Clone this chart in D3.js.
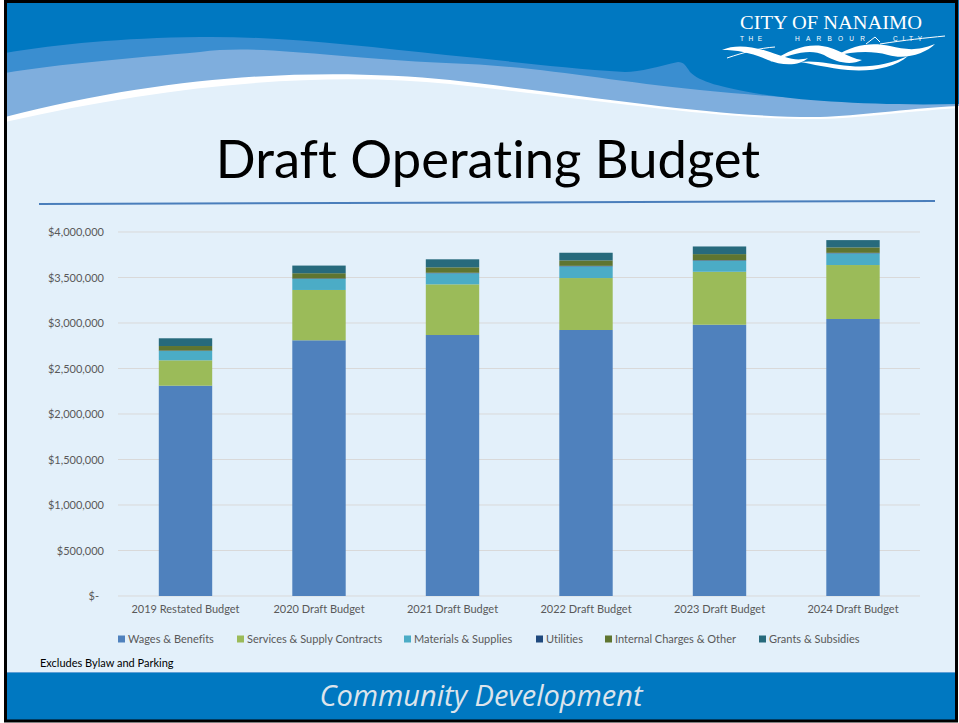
<!DOCTYPE html>
<html><head><meta charset="utf-8">
<script src="https://cdn.jsdelivr.net/npm/d3@7/dist/d3.min.js"></script>
<style>html,body{margin:0;padding:0;background:#fff;}svg{display:block;}text{font-variant-ligatures:none;}</style>
</head><body>
<svg id="c" width="959" height="723"></svg>
<script>
const categories = ["2019 Restated Budget","2020 Draft Budget","2021 Draft Budget","2022 Draft Budget","2023 Draft Budget","2024 Draft Budget"];
const seriesNames = ["Wages & Benefits","Services & Supply Contracts","Materials & Supplies","Utilities","Internal Charges & Other","Grants & Subsidies"];
const wages     = [2311000, 2810000, 2868000, 2923000, 2981000, 3044000];
const services  = [279000, 553000, 557000, 571000, 582000, 593000];
const materials = [102000, 121000, 121000, 128000, 121000, 128000];
const utilities = [5000, 6000, 6000, 6000, 6000, 6000];
const internal  = [50000, 57000, 60000, 60000, 67000, 60000];
const grants    = [85000, 84000, 88000, 84000, 84000, 80000];
const tickValues = [0, 500000, 1000000, 1500000, 2000000, 2500000, 3000000, 3500000, 4000000];
const tickLabels = ["$-", "$500,000", "$1,000,000", "$1,500,000", "$2,000,000", "$2,500,000", "$3,000,000", "$3,500,000", "$4,000,000"];
const colors = ["#4F81BD","#9BBB59","#4BACC6","#1F497D","#5F7530","#276A7C"];

const svg = d3.select("#c");
// background
svg.append("rect").attr("width",959).attr("height",723).attr("fill","#fff");
svg.append("rect").attr("x",5).attr("y",2).attr("width",952).attr("height",719).attr("fill","#E3F0FA");

// header waves
const hdr = svg.append("g");
hdr.append("path").attr("fill","#ffffff")
  .attr("d","M5,0 H959 V108 C900,112 860,118 820,119 C720,120 600,100 450,84 C330,72 180,82 5,122 Z");
hdr.append("path").attr("fill","#7FAEDD")
  .attr("d","M5,0 H959 V106 C900,109 860,116 820,117 C720,118 600,97 450,80 C330,68 180,72 5,117 Z");
hdr.append("path").attr("fill","#3A8ED0")
  .attr("d","M5,0 H959 V104 C880,104 780,98 700,90 C600,80 540,66 446,63 C330,58 260,44 200,52 C130,58 60,64 5,73 Z");
hdr.append("path").attr("fill","#0078C1")
  .attr("d","M5,0 H959 V104 C880,106 800,101 760,94 C720,87 700,82 690,72 C686,66 684,62 678,62 C660,66 640,72 625,72 C560,68 500,60 446,55 C360,46 280,36 200,37 C120,38 60,44 5,53 Z");

// logo
const logo = svg.append("g");
logo.append("text").attr("x",831).attr("y",29).attr("text-anchor","middle")
  .attr("font-family","Liberation Serif, DejaVu Serif, serif").attr("font-size",19.5).attr("fill","#fff")
  .attr("textLength",182).attr("lengthAdjust","spacingAndGlyphs").text("CITY OF NANAIMO");
[["THE",740,22],["HARBOUR",795,70],["CITY",893,29]].forEach(([t,x,w])=>{
  logo.append("text").attr("x",x).attr("y",41)
    .attr("font-family","Liberation Sans, sans-serif").attr("font-size",6.5).attr("fill","#fff")
    .attr("textLength",w).attr("lengthAdjust","spacing").text(t);
});
logo.append("path").attr("fill","none").attr("stroke","#fff").attr("stroke-width",1)
  .attr("d","M866,44 L875,37 L880,42 M727,58 C745,52 760,48 775,47 M880,44 C905,40 925,38 945,36");
logo.append("path").attr("fill","#fff")
  .attr("d","M722,50 C735,44 752,46 770,52 C785,57 795,62 808,58 C800,66 782,66 768,60 C752,53 738,50 722,50 Z");
logo.append("path").attr("fill","#fff")
  .attr("d","M770,62 C790,50 805,44 822,46 C838,48 848,58 862,60 C850,66 836,62 824,55 C810,48 792,54 770,62 Z");
logo.append("path").attr("fill","#fff")
  .attr("d","M835,56 C855,44 872,42 890,46 C905,49 915,52 935,44 C925,54 905,60 888,55 C870,50 852,52 835,56 Z");
logo.append("path").attr("fill","#fff")
  .attr("d","M800,62 C815,60 830,64 850,66 C870,68 890,64 908,56 C895,68 870,72 848,70 C828,68 812,64 800,62 Z");

// title
svg.append("text").attr("x",488).attr("y",178).attr("text-anchor","middle")
  .attr("font-family","Lato, Carlito, sans-serif").attr("font-size",52.5).attr("fill","#000")
  .text("Draft Operating Budget");
svg.append("line").attr("x1",39).attr("y1",204).attr("x2",935).attr("y2",201)
  .attr("stroke","#4A7EBB").attr("stroke-width",2);

// chart
const x = d3.scaleBand().domain(categories).range([118.75, 919.75]).paddingInner(0.6).paddingOuter(0.3);
const y = d3.scaleLinear().domain([0, 4000000]).range([596, 232]);

const grid = svg.append("g");
grid.selectAll("line").data(tickValues).join("line")
  .attr("x1",118).attr("x2",920).attr("y1",d=>y(d)).attr("y2",d=>y(d))
  .attr("stroke","#D9D9D9").attr("stroke-width",1);

const yAxis = d3.axisLeft(y).tickValues(tickValues).tickSize(0).tickPadding(0)
  .tickFormat((d,i)=>tickLabels[i]);
const ya = svg.append("g").attr("transform","translate(104,0)").call(yAxis);
ya.select(".domain").remove();
ya.selectAll("text").attr("font-family","Lato, Carlito, sans-serif").attr("font-size",11).attr("fill","#595959")
  .attr("dx",(d)=>d===0?-5:0);

const table = categories.map((c,i)=>({cat:c, "Wages & Benefits":wages[i], "Services & Supply Contracts":services[i],
  "Materials & Supplies":materials[i], "Utilities":utilities[i], "Internal Charges & Other":internal[i], "Grants & Subsidies":grants[i]}));
const stack = d3.stack().keys(seriesNames)(table);
const col = d3.scaleOrdinal().domain(seriesNames).range(colors);
svg.append("g").selectAll("g").data(stack).join("g").attr("fill",d=>col(d.key))
  .selectAll("rect").data(d=>d).join("rect")
  .attr("x",d=>x(d.data.cat)).attr("width",x.bandwidth())
  .attr("y",d=>y(d[1])).attr("height",d=>y(d[0])-y(d[1]));

const xAxis = d3.axisBottom(x).tickSize(0).tickPadding(0);
const xa = svg.append("g").attr("transform","translate(0,605)").call(xAxis);
xa.select(".domain").remove();
xa.selectAll("text").attr("font-family","Lato, Carlito, sans-serif").attr("font-size",11).attr("fill","#595959");

// legend
const legX = [118, 237, 404, 536, 605, 759];
const lg = svg.append("g");
seriesNames.forEach((n,i)=>{
  lg.append("rect").attr("x",legX[i]).attr("y",635.5).attr("width",7).attr("height",7).attr("fill",colors[i]);
  lg.append("text").attr("x",legX[i]+10).attr("y",643).attr("font-family","Lato, Carlito, sans-serif")
    .attr("font-size",11).attr("fill","#595959").text(n);
});

svg.append("text").attr("x",40).attr("y",667).attr("font-family","Lato, Carlito, sans-serif")
  .attr("font-size",11).attr("fill","#000").text("Excludes Bylaw and Parking");

// footer
svg.append("rect").attr("x",5).attr("y",672).attr("width",952).attr("height",48).attr("fill","#0078C1");
svg.append("line").attr("x1",5).attr("x2",957).attr("y1",672.5).attr("y2",672.5).attr("stroke","#5E9FD6").attr("stroke-width",1);
svg.append("text").attr("x",481).attr("y",706).attr("text-anchor","middle")
  .attr("font-family","Open Sans, sans-serif").attr("font-style","italic").attr("font-size",29)
  .attr("fill","#DCE4EC").text("Community Development");

// frame
svg.append("rect").attr("x",5.5).attr("y",1.5).attr("width",951).attr("height",719.5)
  .attr("fill","none").attr("stroke","#000").attr("stroke-width",3);
</script>
</body></html>
